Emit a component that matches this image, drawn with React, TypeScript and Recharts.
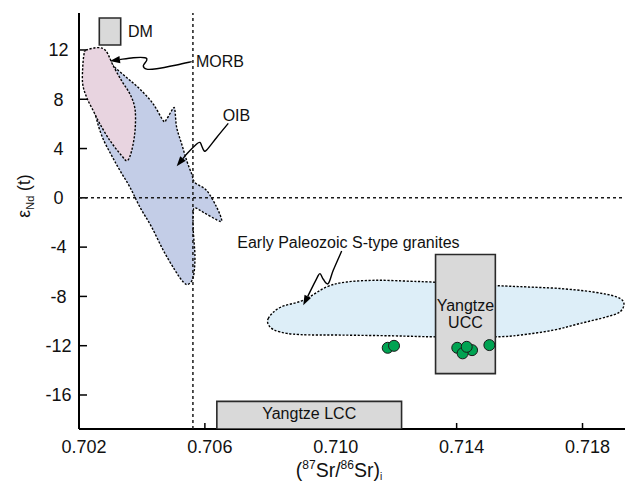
import React from 'react';
import { ScatterChart, Scatter, XAxis, YAxis } from 'recharts';

// axes: (87Sr/86Sr)i against eNd(t)
const xDomain = [0.702, 0.71935];
const yDomain = [-18.76, 15];
const xTicks = [0.702, 0.706, 0.71, 0.714, 0.718];
const yTicks = [12, 8, 4, 0, -4, -8, -12, -16];

// dotted guide lines
const guideX = 0.70562;
const guideY = 0;

// field outlines
const oibOutline = [
  { x: 0.702921, y: 11.27 }, { x: 0.70309, y: 10.71 }, { x: 0.703515, y: 9.76 },
  { x: 0.703938, y: 8.82 }, { x: 0.704361, y: 7.61 }, { x: 0.704678, y: 6.26 },
  { x: 0.704786, y: 6.39 }, { x: 0.704996, y: 7.28 }, { x: 0.70505, y: 7.06 },
  { x: 0.705104, y: 5.71 }, { x: 0.705263, y: 4.37 }, { x: 0.705422, y: 3.02 },
  { x: 0.705581, y: 1.94 }, { x: 0.705685, y: 1.24 }, { x: 0.706057, y: 0.59 },
  { x: 0.706375, y: -0.76 }, { x: 0.706534, y: -1.84 }, { x: 0.706375, y: -1.78 },
  { x: 0.705949, y: -1.17 }, { x: 0.705685, y: -0.81 }, { x: 0.705631, y: -1.19 },
  { x: 0.705631, y: -2.65 }, { x: 0.705685, y: -4.81 }, { x: 0.705631, y: -6.43 },
  { x: 0.705473, y: -7.02 }, { x: 0.705314, y: -6.83 }, { x: 0.70505, y: -5.88 },
  { x: 0.704678, y: -4.26 }, { x: 0.70431, y: -2.38 }, { x: 0.703938, y: -0.76 },
  { x: 0.70362, y: 0.86 }, { x: 0.703303, y: 2.21 }, { x: 0.703039, y: 3.42 },
  { x: 0.702763, y: 4.8 }, { x: 0.702572, y: 6.26 }, { x: 0.702508, y: 7.47 },
  { x: 0.702667, y: 9.49 },
];

const morbOutline = [
  { x: 0.70222, y: 11.98 }, { x: 0.702613, y: 12.19 }, { x: 0.702858, y: 11.92 },
  { x: 0.70309, y: 10.71 }, { x: 0.703357, y: 9.49 }, { x: 0.70362, y: 8.42 },
  { x: 0.70378, y: 7.2 }, { x: 0.70378, y: 5.45 }, { x: 0.703674, y: 3.83 },
  { x: 0.703535, y: 3.02 }, { x: 0.703357, y: 3.42 }, { x: 0.702985, y: 4.64 },
  { x: 0.702667, y: 5.99 }, { x: 0.702454, y: 7.06 }, { x: 0.702245, y: 8.14 },
  { x: 0.702118, y: 9.23 }, { x: 0.702118, y: 10.57 }, { x: 0.702159, y: 11.65 },
];

const graniteOutline = [
  { x: 0.708014, y: -9.79 }, { x: 0.708386, y: -8.9 }, { x: 0.709126, y: -8.31 },
  { x: 0.70987, y: -7.23 }, { x: 0.710505, y: -6.83 }, { x: 0.711458, y: -6.69 },
  { x: 0.712516, y: -6.77 }, { x: 0.713342, y: -6.85 }, { x: 0.715226, y: -7.12 },
  { x: 0.716224, y: -7.23 }, { x: 0.717282, y: -7.36 }, { x: 0.71834, y: -7.64 },
  { x: 0.719083, y: -8.04 }, { x: 0.719315, y: -8.55 }, { x: 0.719188, y: -9.26 },
  { x: 0.718766, y: -9.66 }, { x: 0.717917, y: -10.2 }, { x: 0.717069, y: -10.74 },
  { x: 0.716011, y: -11.14 }, { x: 0.715226, y: -11.28 }, { x: 0.713342, y: -11.28 },
  { x: 0.711986, y: -11.2 }, { x: 0.710397, y: -11.14 }, { x: 0.709021, y: -11.1 },
  { x: 0.708386, y: -10.88 }, { x: 0.708068, y: -10.47 },
];

// reservoir boxes: [min, max]
const dmX = [0.702645, 0.703325];
const dmY = [12.4, 14.6];
const uccX = [0.71333, 0.71523];
const uccY = [-14.27, -4.6];
const lccX = [0.70638, 0.71225];
const lccY = [-18.76, -16.52];

// samples
const samples = [
  { x: 0.71181, y: -12.17 }, { x: 0.71201, y: -12.01 },
  { x: 0.71402, y: -12.17 }, { x: 0.71449, y: -12.36 }, { x: 0.71419, y: -12.62 },
  { x: 0.71432, y: -12.09 }, { x: 0.71504, y: -11.95 },
];

// wavy leader lines, label end first, arrow tip last
const morbArrow = [
  { x: 0.705581, y: 11.05 }, { x: 0.705104, y: 10.78 }, { x: 0.704468, y: 10.48 },
  { x: 0.704151, y: 10.44 }, { x: 0.704043, y: 10.71 }, { x: 0.704151, y: 11.16 },
  { x: 0.704097, y: 11.37 }, { x: 0.703726, y: 11.37 }, { x: 0.702985, y: 11.11 },
];
const oibArrow = [
  { x: 0.706743, y: 6.04 }, { x: 0.706375, y: 4.9 }, { x: 0.706057, y: 3.88 },
  { x: 0.705971, y: 3.83 }, { x: 0.705898, y: 4.23 }, { x: 0.705844, y: 4.5 },
  { x: 0.705739, y: 4.37 }, { x: 0.705422, y: 3.56 }, { x: 0.705104, y: 2.56 },
];
const graniteArrow = [
  { x: 0.710346, y: -4.32 }, { x: 0.710079, y: -5.88 }, { x: 0.709921, y: -6.96 },
  { x: 0.709762, y: -6.61 }, { x: 0.709657, y: -6.15 }, { x: 0.709552, y: -6.55 },
  { x: 0.709126, y: -8.72 },
];

const startLabels = [
  { x: 0.703557, y: 13.54, text: 'DM' },
  { x: 0.705717, y: 11.11, text: 'MORB' },
  { x: 0.706565, y: 6.66, text: 'OIB' },
  { x: 0.707029, y: -3.62, text: 'Early Paleozoic S-type granites' },
];
const middleLabels = [
  { x: 0.71428, y: -8.72, text: 'Yangtze' },
  { x: 0.71428, y: -10.13, text: 'UCC' },
  { x: 0.709315, y: -17.48, text: 'Yangtze LCC' },
];

const FONT = 'Arial, "Liberation Sans", Helvetica, sans-serif';

type Pt = { x: number; y: number };

const box = (xs: number[], ys: number[]) => [
  { x: xs[0], y: ys[0] }, { x: xs[1], y: ys[0] }, { x: xs[1], y: ys[1] }, { x: xs[0], y: ys[1] },
];

// catmull-rom through the points
const smoothPath = (pts: Pt[], closed: boolean) => {
  const n = pts.length;
  const at = (i: number) =>
    closed ? pts[(i + n) % n] : pts[Math.max(0, Math.min(n - 1, i))];
  let d = `M${pts[0].x},${pts[0].y}`;
  const segs = closed ? n : n - 1;
  for (let i = 0; i < segs; i++) {
    const p0 = at(i - 1), p1 = at(i), p2 = at(i + 1), p3 = at(i + 2);
    const c1x = p1.x + (p2.x - p0.x) / 6, c1y = p1.y + (p2.y - p0.y) / 6;
    const c2x = p2.x - (p3.x - p1.x) / 6, c2y = p2.y - (p3.y - p1.y) / 6;
    d += ` C${c1x},${c1y} ${c2x},${c2y} ${p2.x},${p2.y}`;
  }
  return closed ? d + 'Z' : d;
};

const straightPath = (pts: Pt[], closed: boolean) =>
  pts.map((p, i) => `${i ? 'L' : 'M'}${p.x},${p.y}`).join(' ') + (closed ? 'Z' : '');

const fieldLine = (fill: string) => (props: any) => (
  <path d={smoothPath(props.points, true)} fill={fill} stroke="#000" strokeWidth={1.4} strokeDasharray="2.2 1.6" />
);

const boxLine = (props: any) => (
  <path d={straightPath(props.points, true)} fill="#d9d9d9" stroke="#2a2a2a" strokeWidth={1.6} />
);

const guideLine = (props: any) => (
  <path d={straightPath(props.points, false)} fill="none" stroke="#1a1a1a" strokeWidth={1.5} strokeDasharray="3 3" />
);

const arrowLine = (props: any) => {
  const pts: Pt[] = props.points;
  const n = pts.length;
  const tip = pts[n - 1];
  const prev = pts[n - 2];
  const len = Math.hypot(tip.x - prev.x, tip.y - prev.y);
  const ux = (tip.x - prev.x) / len, uy = (tip.y - prev.y) / len;
  const bx = tip.x - ux * 10, by = tip.y - uy * 10;
  const body = [...pts.slice(0, n - 1), { x: bx, y: by }];
  return (
    <g>
      <path d={smoothPath(body, false)} fill="none" stroke="#000" strokeWidth={1.4} />
      <path
        d={`M${tip.x},${tip.y} L${bx - uy * 3.6},${by + ux * 3.6} L${bx + uy * 3.6},${by - ux * 3.6}Z`}
        fill="#000"
      />
    </g>
  );
};

const noPoint = () => <g />;

const textShape = (anchor: 'start' | 'middle') => (p: any) => (
  <text x={p.cx} y={p.cy} dy="0.35em" textAnchor={anchor} fontSize={16} fontFamily={FONT} fill="#111">
    {p.payload.text}
  </text>
);

const dotShape = (p: any) => (
  <circle cx={p.cx} cy={p.cy} r={5.5} fill="#00a352" stroke="#1a1a1a" strokeWidth={1} />
);

const XTick = (p: any) => (
  <text x={p.x + 5} y={p.y} dy="0.35em" textAnchor="middle" fontSize={18} fontFamily={FONT} fill="#111">
    {Number(p.payload.value).toFixed(3)}
  </text>
);

const YTick = (p: any) => (
  <text x={p.x} y={p.y} dy="0.35em" textAnchor="middle" fontSize={18} fontFamily={FONT} fill="#111">
    {p.payload.value}
  </text>
);

const xLabel = () => (
  <text x={339} y={477} textAnchor="middle" fontSize={19.5} fontFamily={FONT} fill="#111">
    (<tspan fontSize={12} dy={-8}>87</tspan>
    <tspan dy={8}>Sr/</tspan>
    <tspan fontSize={12} dy={-8}>86</tspan>
    <tspan dy={8}>Sr)</tspan>
    <tspan fontSize={10} dy={3}>i</tspan>
  </text>
);

const yLabel = () => (
  <text transform="translate(30,196) rotate(-90)" textAnchor="middle" fontSize={17.5} fontFamily={FONT} fill="#111">
    ε<tspan fontSize={11} dy={4}>Nd</tspan>
    <tspan dy={-4}> (t)</tspan>
  </text>
);

const App = () => {
  const axisLine = { stroke: '#000', strokeWidth: 2 };
  const tickLine = { stroke: '#000', strokeWidth: 1.5 };
  return (
    <div>
      <style>{'body{margin:0}'}</style>
      <ScatterChart width={625} height={484} margin={{ top: 13, right: 0, bottom: 0, left: 0 }}>
        <XAxis
          xAxisId="top"
          orientation="top"
          type="number"
          domain={xDomain}
          allowDataOverflow
          height={0}
          tick={false}
          tickLine={false}
          axisLine={axisLine}
        />
        <XAxis
          dataKey="x"
          type="number"
          domain={xDomain}
          allowDataOverflow
          ticks={xTicks}
          interval={0}
          height={55}
          axisLine={axisLine}
          tickLine={tickLine}
          tickSize={-6}
          tickMargin={24}
          tick={XTick}
          label={xLabel}
        />
        <YAxis
          dataKey="y"
          type="number"
          domain={yDomain}
          allowDataOverflow
          ticks={yTicks}
          interval={0}
          width={79}
          axisLine={axisLine}
          tickLine={tickLine}
          tickSize={-8}
          tickMargin={28.5}
          tick={YTick}
          label={yLabel}
        />
        <Scatter data={oibOutline} line={fieldLine('#c3cde7')} lineType="joint" shape={noPoint} isAnimationActive={false} />
        <Scatter data={morbOutline} line={fieldLine('#e8d4e0')} lineType="joint" shape={noPoint} isAnimationActive={false} />
        <Scatter data={graniteOutline} line={fieldLine('#ddeef8')} lineType="joint" shape={noPoint} isAnimationActive={false} />
        <Scatter
          data={[{ x: guideX, y: yDomain[0] }, { x: guideX, y: yDomain[1] }]}
          line={guideLine}
          lineType="joint"
          shape={noPoint}
          isAnimationActive={false}
        />
        <Scatter
          data={[{ x: xDomain[0], y: guideY }, { x: xDomain[1], y: guideY }]}
          line={guideLine}
          lineType="joint"
          shape={noPoint}
          isAnimationActive={false}
        />
        <Scatter data={box(dmX, dmY)} line={boxLine} lineType="joint" shape={noPoint} isAnimationActive={false} />
        <Scatter data={box(uccX, uccY)} line={boxLine} lineType="joint" shape={noPoint} isAnimationActive={false} />
        <Scatter data={box(lccX, lccY)} line={boxLine} lineType="joint" shape={noPoint} isAnimationActive={false} />
        <Scatter data={morbArrow} line={arrowLine} lineType="joint" shape={noPoint} isAnimationActive={false} />
        <Scatter data={oibArrow} line={arrowLine} lineType="joint" shape={noPoint} isAnimationActive={false} />
        <Scatter data={graniteArrow} line={arrowLine} lineType="joint" shape={noPoint} isAnimationActive={false} />
        <Scatter data={samples} shape={dotShape} isAnimationActive={false} />
        <Scatter data={startLabels} shape={textShape('start')} isAnimationActive={false} />
        <Scatter data={middleLabels} shape={textShape('middle')} isAnimationActive={false} />
      </ScatterChart>
    </div>
  );
};

export default App;
